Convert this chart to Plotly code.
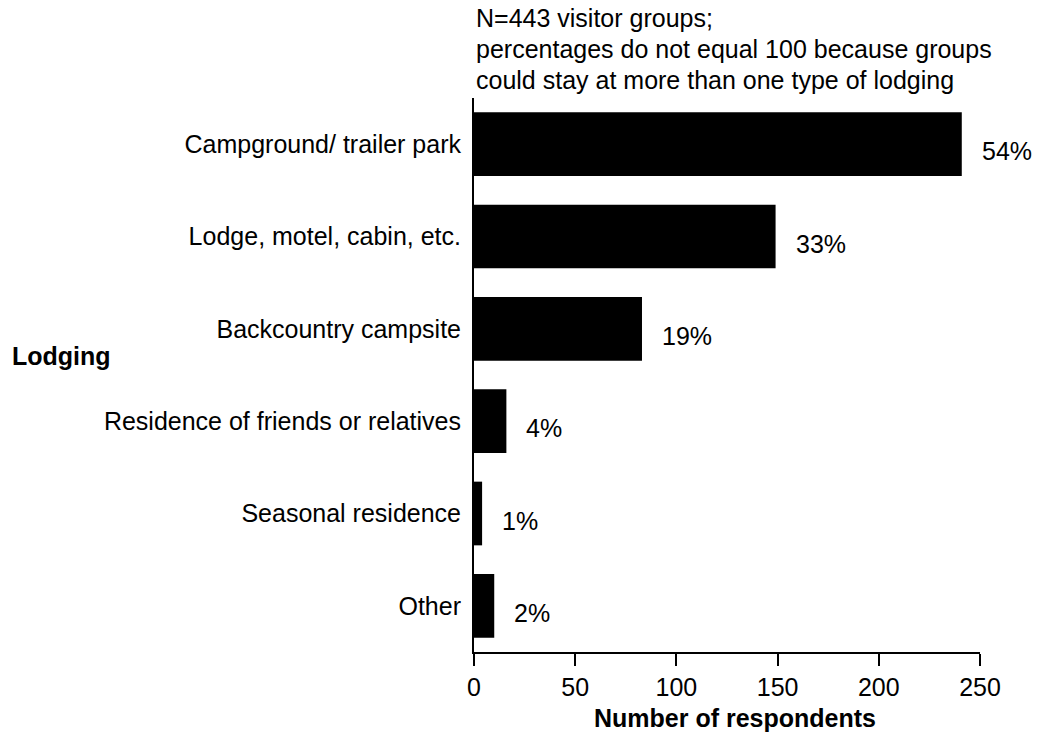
import plotly.graph_objects as go

categories = ["Campground/ trailer park", "Lodge, motel, cabin, etc.", "Backcountry campsite",
              "Residence of friends or relatives", "Seasonal residence", "Other"]
counts = [241, 149, 83, 16, 4, 10]
pct_labels = ["54%", "33%", "19%", "4%", "1%", "2%"]
x_ticks = [0, 50, 100, 150, 200, 250]
note_lines = ["N=443 visitor groups;",
              "percentages do not equal 100 because groups",
              "could stay at more than one type of lodging"]

FONT = "Liberation Sans, Arial, sans-serif"
FS = 25
ML, MR, MT, MB = 474, 58, 98, 84
PW = 1038 - ML - MR

fig = go.Figure()
fig.add_trace(go.Bar(
    y=categories, x=counts, orientation="h",
    marker=dict(color="black", line=dict(width=0)),
    width=0.69, hoverinfo="skip",
))

annotations = []
for c, v, p in zip(categories, counts, pct_labels):
    annotations.append(dict(x=v, y=c, xref="x", yref="y", text=p, showarrow=False,
                            xanchor="left", yanchor="middle", xshift=18, yshift=-7,
                            font=dict(size=FS, color="black", family=FONT)))
# note above the plot, one annotation per line (31 px line spacing)
for i, line in enumerate(note_lines):
    annotations.append(dict(x=0, y=1, xref="paper", yref="paper", xanchor="left", yanchor="middle",
                            yshift=(MT - 18) - 31 * i, showarrow=False, text=line,
                            font=dict(size=FS, color="black", family=FONT)))
annotations.append(dict(x=(10 - ML) / PW, y=0.5, xref="paper", yref="paper", showarrow=False,
                        text="<b>Lodging</b>", xanchor="left", yanchor="middle", yshift=19,
                        font=dict(size=FS, color="black", family=FONT)))
annotations.append(dict(x=0.5, y=0, xref="paper", yref="paper", showarrow=False,
                        text="<b>Number of respondents</b>", xanchor="center", yanchor="middle",
                        xshift=8, yshift=-(718 - (736 - MB)),
                        font=dict(size=FS, color="black", family=FONT)))

fig.update_layout(
    width=1038, height=736,
    margin=dict(l=ML, r=MR, t=MT, b=MB),
    paper_bgcolor="white", plot_bgcolor="white",
    showlegend=False,
    font=dict(family=FONT, size=FS, color="black"),
    annotations=annotations,
    xaxis=dict(range=[0, 250], tickvals=x_ticks, ticks="outside", ticklen=12, tickwidth=2,
               tickcolor="black", showline=True, linecolor="black", linewidth=2,
               showgrid=False, zeroline=False, automargin=False,
               tickfont=dict(size=FS)),
    yaxis=dict(categoryorder="array", categoryarray=categories[::-1], range=[-0.5, 5.5],
               showline=True, linecolor="black", linewidth=2, ticks="", showgrid=False,
               zeroline=False, tickfont=dict(size=FS), ticklabelstandoff=6, automargin=False),
)

fig.write_html("out.html", config={"displayModeBar": False},
               post_script="document.body.style.margin='0';")
